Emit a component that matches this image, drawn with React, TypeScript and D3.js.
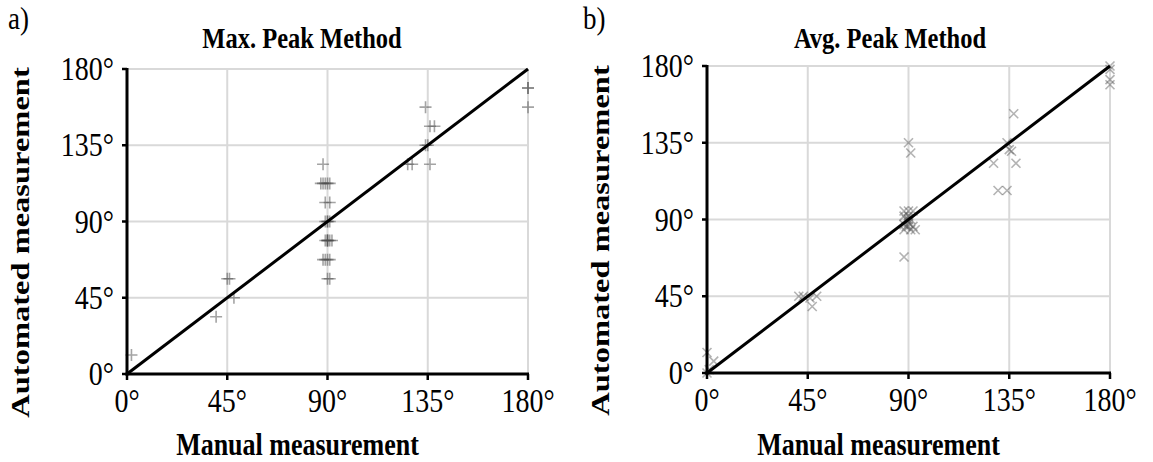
import React from "react";
import * as d3 from "d3";

// manual vs automated angles, degrees
const maxPeakX = [2, 40, 45, 46, 48, 88, 87, 88, 89, 90, 91, 89, 91, 89, 90, 90, 91, 89, 90, 90, 90, 91, 92, 88, 89, 90, 91, 90, 91, 126, 128, 136, 134, 136, 138, 135, 134, 180, 180, 180];
const maxPeakY = [11.25, 33.75, 56.25, 56.25, 45, 123.75, 112.5, 112.5, 112.5, 112.5, 112.5, 101.25, 101.25, 90, 90, 90, 90, 78.75, 78.75, 78.75, 78.75, 78.75, 78.75, 67.5, 67.5, 67.5, 67.5, 56.25, 56.25, 123.75, 123.75, 123.75, 157.5, 146.25, 146.25, 135, 135, 168.75, 168.75, 157.5];

const avgPeakX = [0, 1, 3, 0, 41, 43, 46, 47, 49, 88, 88, 90, 92, 88, 90, 89, 90, 91, 90, 88, 89, 90, 92, 88, 91, 93, 90, 91, 128, 130, 134, 134, 136, 135, 138, 137, 180, 180, 180, 180];
const avgPeakY = [0, 2, 7, 12, 45, 45, 44, 39, 45, 68, 95, 95, 95, 92, 92, 90, 90, 90, 88, 87, 86, 86, 86, 84, 84, 84, 135, 129, 123, 107, 107, 135, 130, 131, 123, 152, 180, 178, 172, 169];

const ticks = [0, 45, 90, 135, 180];
const tickLabels = ["0°", "45°", "90°", "135°", "180°"];

const FONT = "'Liberation Serif', 'Times New Roman', serif";
const STRETCH = 1.2; // text in the source looks taller than wide

type TProps = { x: number; y: number; size: number; anchor?: string; bold?: boolean; rotate?: boolean; children: React.ReactNode };

function T({ x, y, size, anchor = "start", bold = false, rotate = false, children }: TProps) {
  const tf = rotate
    ? `translate(${x},${y}) rotate(-90) scale(${STRETCH + 0.05},1)`
    : `translate(${x},${y}) scale(1,${STRETCH})`;
  return (
    <text transform={tf} textAnchor={anchor} fontFamily={FONT} fontSize={size} fontWeight={bold ? "bold" : "normal"} fill="#000">
      {children}
    </text>
  );
}

type PanelProps = {
  letter: string;
  title: string;
  xs: number[];
  ys: number[];
  marker: "plus" | "cross";
  left: number;
  right: number;
  top: number;
  bottom: number;
  titleX: number;
  letterX: number;
};

function Panel({ letter, title, xs, ys, marker, left, right, top, bottom, titleX, letterX }: PanelProps) {
  const x = d3.scaleLinear().domain([0, 180]).range([left, right]);
  const y = d3.scaleLinear().domain([0, 180]).range([bottom, top]);
  const h = marker === "plus" ? 6 : 4.5;
  const op = marker === "plus" ? 0.5 : 0.42;

  return (
    <g>
      <T x={letterX} y={29} size={27}>{letter}</T>
      <T x={titleX} y={48} size={24.5} anchor="middle" bold>{title}</T>

      {/* grid */}
      {ticks.map((t) => (
        <g key={"g" + t}>
          <line x1={x(t)} x2={x(t)} y1={y(0)} y2={y(180)} stroke="#d9d9d9" strokeWidth={2} />
          <line x1={x(0)} x2={x(180)} y1={y(t)} y2={y(t)} stroke="#d9d9d9" strokeWidth={2} />
        </g>
      ))}

      {/* points */}
      {xs.map((v, i) => {
        const cx = x(v);
        const cy = y(ys[i]);
        const d = marker === "plus"
          ? `M${cx - h},${cy}H${cx + h}M${cx},${cy - h}V${cy + h}`
          : `M${cx - h},${cy - h}L${cx + h},${cy + h}M${cx - h},${cy + h}L${cx + h},${cy - h}`;
        return <path key={i} d={d} stroke="#4a4a4a" strokeOpacity={op} strokeWidth={1.6} fill="none" />;
      })}

      {/* identity line */}
      <line x1={x(0)} y1={y(0)} x2={x(180)} y2={y(180)} stroke="#000" strokeWidth={3} />

      {/* axes */}
      <line x1={x(0)} x2={x(0)} y1={y(0) + 1.5} y2={y(180) - 1} stroke="#000" strokeWidth={3} />
      <line x1={x(0) - 1.5} x2={x(180) + 1} y1={y(0)} y2={y(0)} stroke="#000" strokeWidth={3} />
      {ticks.map((t, i) => (
        <g key={"t" + t}>
          <line x1={x(0) - 5} x2={x(0)} y1={y(t)} y2={y(t)} stroke="#000" strokeWidth={2.5} />
          <line x1={x(t)} x2={x(t)} y1={y(0)} y2={y(0) + 6} stroke="#000" strokeWidth={2.5} />
          <T x={x(0) - 13} y={y(t) + 11} size={28} anchor="end">{tickLabels[i]}</T>
          <T x={x(t)} y={y(0) + 38} size={28} anchor="middle">{tickLabels[i]}</T>
        </g>
      ))}

      <T x={(left + right) / 2 - 30} y={455} size={26} anchor="middle" bold>Manual measurement</T>
      <T x={left - 98} y={(top + bottom) / 2 + 21} size={26} anchor="middle" bold rotate>Automated measurement</T>
    </g>
  );
}

export default function App() {
  return (
    <svg width={1153} height={462} style={{ position: "absolute", left: 0, top: 0, background: "#fff" }}>
      <Panel letter="a)" title="Max. Peak Method" xs={maxPeakX} ys={maxPeakY} marker="plus"
        left={127} right={528} top={69} bottom={374} titleX={302} letterX={8} />
      <Panel letter="b)" title="Avg. Peak Method" xs={avgPeakX} ys={avgPeakY} marker="cross"
        left={707} right={1110} top={66} bottom={373} titleX={890} letterX={583} />
    </svg>
  );
}
